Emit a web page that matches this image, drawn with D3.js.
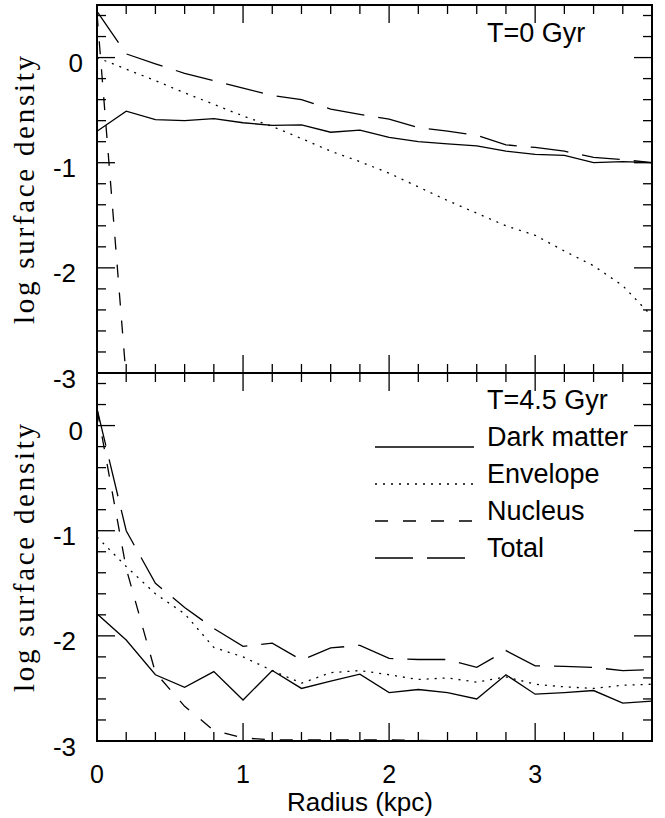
<!DOCTYPE html>
<html><head><meta charset="utf-8">
<script src="https://cdn.jsdelivr.net/npm/d3@7/dist/d3.min.js"></script>
<style>body{margin:0;background:#fff}</style>
</head><body>
<svg id="chart" width="665" height="818"></svg>
<script>
// ---- data ----
const radius = [0,0.2,0.4,0.6,0.8,1.0,1.2,1.4,1.6,1.8,2.0,2.2,2.4,2.6,2.8,3.0,3.2,3.4,3.6,3.8];
// T = 0 Gyr
const dm0  = [-0.70,-0.51,-0.59,-0.60,-0.58,-0.62,-0.645,-0.64,-0.71,-0.69,-0.76,-0.80,-0.82,-0.84,-0.89,-0.92,-0.93,-1.00,-0.99,-1.00];
const env0 = [0.0,-0.11,-0.22,-0.335,-0.445,-0.555,-0.655,-0.77,-0.89,-0.99,-1.10,-1.23,-1.36,-1.48,-1.60,-1.69,-1.84,-1.98,-2.17,-2.46];
const nuc0 = [0.42,-3.05];
const tot0 = [0.44,0.035,-0.06,-0.15,-0.22,-0.29,-0.36,-0.40,-0.49,-0.54,-0.585,-0.665,-0.70,-0.74,-0.83,-0.855,-0.89,-0.95,-0.97,-1.00];
// T = 4.5 Gyr
const dm45  = [-1.79,-2.04,-2.37,-2.49,-2.34,-2.61,-2.33,-2.50,-2.43,-2.365,-2.54,-2.51,-2.54,-2.60,-2.37,-2.555,-2.54,-2.52,-2.64,-2.62];
const env45 = [-1.06,-1.34,-1.60,-1.79,-2.11,-2.20,-2.33,-2.45,-2.35,-2.33,-2.37,-2.415,-2.40,-2.44,-2.39,-2.46,-2.485,-2.50,-2.47,-2.46];
const nuc45 = [0.16,-1.36,-2.35,-2.67,-2.90,-2.97,-2.99,-2.99,-2.99,-2.99,-2.99,-2.995,-3.0,-3.0,-3.0,-3.0,-3.0,-3.0,-3.0,-3.0];
const tot45 = [0.16,-1.00,-1.50,-1.73,-1.93,-2.10,-2.07,-2.23,-2.115,-2.09,-2.215,-2.225,-2.225,-2.30,-2.14,-2.285,-2.29,-2.30,-2.33,-2.32];

const xMajor = [0,1,2,3];
const yMajorLabels = [0,-1,-2,-3];
const panelTitles = ["T=0 Gyr","T=4.5 Gyr"];
const legendNames = ["Dark matter","Envelope","Nucleus","Total"];

// ---- layout ----
const svg = d3.select("#chart");
const L = 97, R = 652;
const panels = [
  {top:5, bottom:373, title:panelTitles[0],
   series:[{v:dm0,s:"solid"},{v:env0,s:"dot"},{v:nuc0,s:"dash"},{v:tot0,s:"long"}]},
  {top:373, bottom:741, title:panelTitles[1],
   series:[{v:dm45,s:"solid"},{v:env45,s:"dot"},{v:nuc45,s:"dash"},{v:tot45,s:"long"}]}
];
const dashes = {solid:null, dot:"2,6", dash:"13,15", long:"38,14"};
const x = d3.scaleLinear().domain([0,3.8]).range([L,R]);
const FONT = "'Liberation Sans', Arial, Helvetica, sans-serif";

const minorX = d3.range(0,3.8,0.2).map(v=>+v.toFixed(1));
const minorY = d3.range(-3,0.5,0.2).map(v=>+v.toFixed(1));
const isInt = v => Math.abs(v-Math.round(v))<1e-6;

panels.forEach((p,i)=>{
  const y = d3.scaleLinear().domain([-3,0.5]).range([p.bottom,p.top]);
  const g = svg.append("g");
  const cid = "clip"+i;
  svg.append("clipPath").attr("id",cid).append("rect")
     .attr("x",L).attr("y",p.top).attr("width",R-L).attr("height",p.bottom-p.top);

  // series
  const line = d3.line().x((d,k)=>x(radius[k])).y(d=>y(d));
  const sg = g.append("g").attr("clip-path",`url(#${cid})`);
  p.series.forEach(s=>{
    sg.append("path").datum(s.v).attr("d",line)
      .attr("fill","none").attr("stroke","#000").attr("stroke-width",1.3)
      .attr("stroke-dasharray",dashes[s.s]);
  });

  // ticks
  const tg = g.append("g").attr("stroke","#000").attr("stroke-width",1.3);
  minorX.forEach(v=>{
    if (v===0) return;
    const len = isInt(v)?18:9;
    tg.append("line").attr("x1",x(v)).attr("x2",x(v)).attr("y1",p.top).attr("y2",p.top+len);
    tg.append("line").attr("x1",x(v)).attr("x2",x(v)).attr("y1",p.bottom).attr("y2",p.bottom-len);
  });
  minorY.forEach(v=>{
    const len = isInt(v)?18:9;
    tg.append("line").attr("x1",L).attr("x2",L+len).attr("y1",y(v)).attr("y2",y(v));
    tg.append("line").attr("x1",R).attr("x2",R-len).attr("y1",y(v)).attr("y2",y(v));
  });

  // frame
  g.append("rect").attr("x",L).attr("y",p.top).attr("width",R-L).attr("height",p.bottom-p.top)
    .attr("fill","none").attr("stroke","#000").attr("stroke-width",2);

  // y labels
  yMajorLabels.forEach(v=>{
    g.append("text").attr("x", v<0?76:83).attr("y",y(v)+14.5)
      .attr("text-anchor","end").attr("font-family",FONT).attr("font-size",26)
      .text(v<0 ? "-"+Math.abs(v) : String(v));
  });

  // y title (serif, spaced)
  const cy = (p.top+p.bottom)/2 + 1;
  g.append("text").attr("transform",`translate(34,${cy}) rotate(-90)`)
    .attr("text-anchor","middle").attr("font-family","'Liberation Serif','Times New Roman',serif")
    .attr("font-size",29).attr("textLength",268).attr("lengthAdjust","spacing")
    .text("log surface density");

  // panel title
  g.append("text").attr("x",487).attr("y",p.top+ (i===0?37:36)).attr("font-family",FONT)
    .attr("font-size",27).text(p.title);

  if (i===1) {
    // legend
    legendNames.forEach((name,k)=>{
      const by = 445.5 + k*37;
      g.append("line").attr("x1",375).attr("x2",474).attr("y1",by+1.5).attr("y2",by+1.5)
        .attr("stroke","#000").attr("stroke-width",1.3)
        .attr("stroke-dasharray",dashes[p.series[k].s]);
      g.append("text").attr("x",487).attr("y",by).attr("font-family",FONT)
        .attr("font-size",27).text(name);
    });
    // x labels
    xMajor.forEach(v=>{
      g.append("text").attr("x",x(v)).attr("y",783).attr("text-anchor","middle")
        .attr("font-family",FONT).attr("font-size",25).text(v);
    });
    g.append("text").attr("x",360).attr("y",811).attr("text-anchor","middle")
      .attr("font-family",FONT).attr("font-size",26).text("Radius (kpc)");
  }
});
</script>
</body></html>
